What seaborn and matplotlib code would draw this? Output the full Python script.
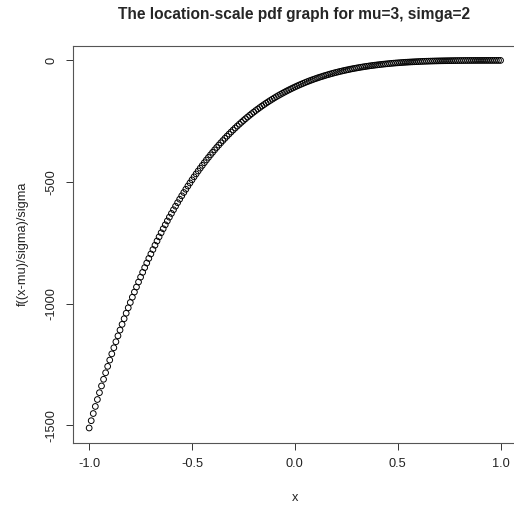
import numpy as np
import pandas as pd
import matplotlib
matplotlib.use("Agg")
import matplotlib.pyplot as plt
import seaborn as sns

# sample grid: x from -1 to 1 in steps of 0.01 (201 points)
x_vals = np.round(np.linspace(-1.0, 1.0, 201), 2)

# y values (f((x-mu)/sigma)/sigma), left to right
y_vals = [
    -1512.0, -1482.0, -1452.5, -1423.4, -1394.8, -1366.7, -1339.0, -1311.7, -1284.9, -1258.5,
    -1232.6, -1207.1, -1182.0, -1157.3, -1133.0, -1109.2, -1085.7, -1062.6, -1039.9, -1017.6,
    -995.7, -974.1, -952.9, -932.1, -911.6, -891.5, -871.8, -852.3, -833.3, -814.5,
    -796.1, -778.0, -760.3, -742.9, -725.7, -708.9, -692.4, -676.2, -660.3, -644.7,
    -629.4, -614.4, -599.6, -585.2, -571.0, -557.0, -543.4, -530.0, -516.8, -504.0,
    -491.3, -478.9, -466.8, -454.9, -443.2, -431.8, -420.6, -409.6, -398.9, -388.4,
    -378.1, -368.0, -358.1, -348.4, -338.9, -329.7, -320.6, -311.7, -303.0, -294.5,
    -286.2, -278.1, -270.1, -262.3, -254.7, -247.3, -240.0, -232.9, -226.0, -219.2,
    -212.6, -206.1, -199.8, -193.7, -187.6, -181.8, -176.0, -170.4, -165.0, -159.7,
    -154.5, -149.4, -144.5, -139.7, -135.0, -130.5, -126.0, -121.7, -117.5, -113.4,
    -109.4, -105.5, -101.7, -98.0, -94.5, -91.0, -87.6, -84.3, -81.1, -78.1,
    -75.0, -72.1, -69.3, -66.6, -63.9, -61.3, -58.8, -56.4, -54.0, -51.7,
    -49.5, -47.4, -45.3, -43.4, -41.4, -39.6, -37.8, -36.0, -34.3, -32.7,
    -31.2, -29.7, -28.2, -26.8, -25.5, -24.2, -22.9, -21.7, -20.6, -19.5,
    -18.4, -17.4, -16.4, -15.5, -14.6, -13.7, -12.9, -12.1, -11.4, -10.6,
    -9.97, -9.32, -8.70, -8.11, -7.56, -7.03, -6.52, -6.05, -5.60, -5.17,
    -4.77, -4.39, -4.03, -3.70, -3.38, -3.09, -2.81, -2.55, -2.31, -2.09,
    -1.88, -1.68, -1.51, -1.34, -1.19, -1.05, -0.92, -0.81, -0.70, -0.60,
    -0.52, -0.44, -0.37, -0.31, -0.26, -0.21, -0.17, -0.14, -0.11, -0.08,
    -0.06, -0.04, -0.03, -0.02, -0.01, -0.01, 0.0, 0.0, 0.0, 0.0,
    0.0,
]

x_ticks = [-1.0, -0.5, 0.0, 0.5, 1.0]
x_tick_labels = ["-1.0", "-0.5", "0.0", "0.5", "1.0"]
y_ticks = [0, -500, -1000, -1500]
y_tick_labels = ["0", "-500", "-1000", "-1500"]

title = "The location-scale pdf graph for mu=3, simga=2"
x_label = "x"
y_label = "f((x-mu)/sigma)/sigma"

df = pd.DataFrame({"x": x_vals, "y": y_vals})

sns.set_style("white")
plt.rcParams["font.family"] = ["Liberation Sans", "DejaVu Sans"]

W, H, DPI = 514, 512, 100
fig = plt.figure(figsize=(W / DPI, H / DPI), dpi=DPI)
left, right, top, bottom = 72.7, 517.0, 45.7, 442.7
ax = fig.add_axes([left / W, 1 - bottom / H, (right - left) / W, (bottom - top) / H])

sns.scatterplot(data=df, x="x", y="y", ax=ax, marker="o", s=17,
                facecolor="none", edgecolor="black", linewidth=0.7)

ax.set_xlim(-1.08, 1.08)
ax.set_ylim(-1572.5, 60.5)
ax.set_xticks(x_ticks)
ax.set_xticklabels(x_tick_labels)
ax.set_yticks(y_ticks)
ax.set_yticklabels(y_tick_labels, rotation=90, va="center")
ax.tick_params(axis="both", direction="out", length=5, width=0.7, color="#333333",
               labelsize=9.2, pad=6, labelcolor="#222222")
ax.tick_params(axis="x", bottom=True)
ax.tick_params(axis="y", left=True)
for sp in ax.spines.values():
    sp.set_color("#555555")
    sp.set_linewidth(0.8)
ax.spines["right"].set_visible(False)

ax.set_xlabel(x_label, fontsize=9.2, labelpad=16, color="#222222")
ax.set_ylabel(y_label, fontsize=9.2, labelpad=12, color="#222222")
fig.text(294 / W, 1 - 15 / H, title, ha="center", va="center",
         fontsize=11.2, fontweight="bold")

fig.savefig("out.png", dpi=DPI)
